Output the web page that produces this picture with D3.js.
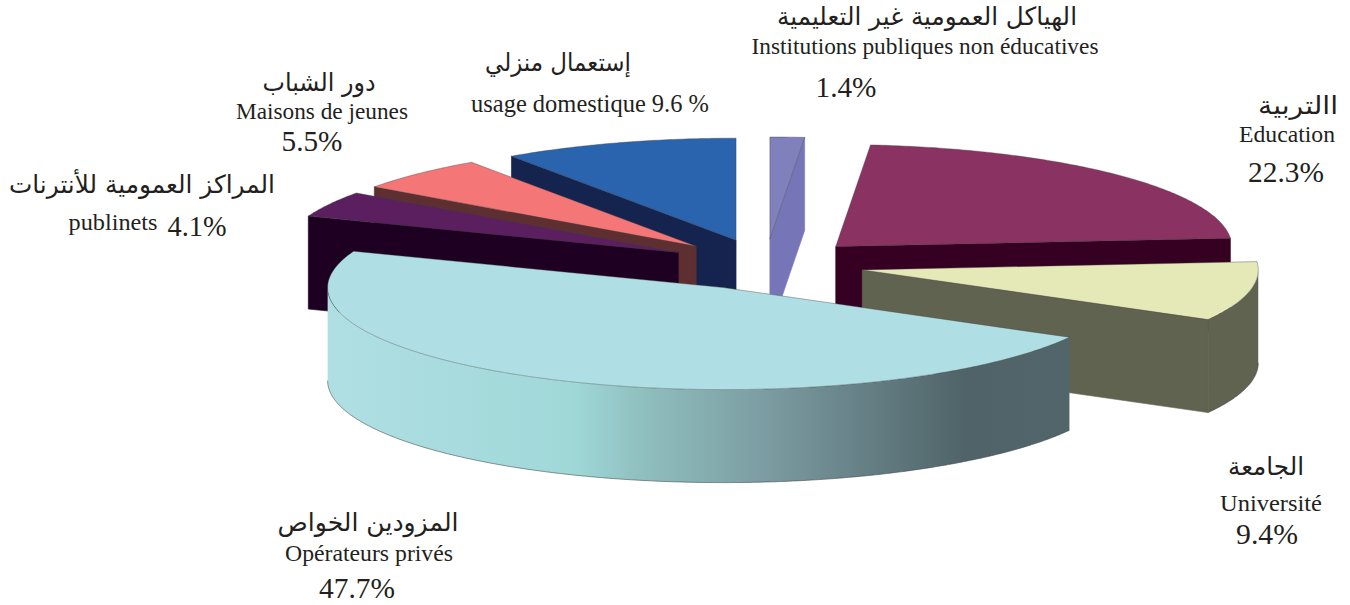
<!DOCTYPE html>
<html><head><meta charset="utf-8">
<script src="https://cdn.jsdelivr.net/npm/d3@7/dist/d3.min.js"></script>
<style>html,body{margin:0;padding:0;background:#fff}svg{display:block}
text{fill:#231f20}</style></head><body>
<svg id="c" width="1350" height="605"></svg>
<script>
// data, clockwise from north
const labelsFr = ["Institutions publiques non éducatives","Education","Université","Opérateurs privés","publinets","Maisons de jeunes","usage domestique"];
const labelsAr = ["الهياكل العمومية غير التعليمية","االتربية","الجامعة","المزودين الخواص","المراكز العمومية للأنترنات","دور الشباب","إستعمال منزلي"];
const shares = [1.4,22.3,9.4,47.7,4.1,5.5,9.6];
const topColors = ["#8080bc","#8a3362","#e5e9b8","#afdfe5","#5b1f60","#f47677","#2b64ae"];
const faceColors = ["#7575b8","#360022","#5f6350","#4f6368","#1e0023","#5e2f30","#15244f"];
const wallColors = ["#7575b8","#360022","#5f6350","url(#wall)","#1e0023","#5e2f30","#15244f"];

const W=1350,H=605, RX=396, RY=102, DEPTH=93, EXPLODE=0.25;
const CX=765.5, CY=264.5;
const x=d3.scaleLinear().domain([-1,1]).range([CX-RX,CX+RX]);
const y=d3.scaleLinear().domain([-1,1]).range([CY-RY,CY+RY]);
const svg=d3.select("#c");

const defs=svg.append("defs");
const g=defs.append("linearGradient").attr("id","wall");
[[0,"#b0dfe3"],[0.33,"#a0d8d8"],[0.42,"#90c0c0"],[0.6,"#7a9aa0"],[0.86,"#4f6368"],[1,"#52656a"]]
 .forEach(s=>g.append("stop").attr("offset",s[0]).attr("stop-color",s[1]));

const pie=d3.pie().sort(null).value(d=>d).startAngle(0).endAngle(2*Math.PI);
const arcs=pie(shares);
const line=d3.line();

function slicePts(a){
  const m=(a.startAngle+a.endAngle)/2;
  const ox=EXPLODE*Math.sin(m), oy=-EXPLODE*Math.cos(m);
  const P=(t,dz=0)=>[x(ox+Math.sin(t)),y(oy-Math.cos(t))+dz];
  const ap=(dz=0)=>[x(ox),y(oy)+dz];
  return {P,ap};
}
function arcAngles(a0,a1){const n=Math.max(2,Math.ceil((a1-a0)/0.01));return d3.range(n+1).map(i=>a0+(a1-a0)*i/n);}

const drawOrder=[6,0,1,5,4,2,3];
const layer=svg.append("g");
drawOrder.forEach(i=>{
  const a=arcs[i],{P,ap}=slicePts(a),G=layer.append("g");
  if(a.startAngle>=Math.PI){
    G.append("path").attr("d",line([ap(),P(a.startAngle),P(a.startAngle,DEPTH),ap(DEPTH)])+"Z")
     .attr("fill",faceColors[i]).attr("stroke",faceColors[i]).attr("stroke-width",0.6);
  }
  if(a.endAngle<=Math.PI){
    G.append("path").attr("d",line([ap(),P(a.endAngle),P(a.endAngle,DEPTH),ap(DEPTH)])+"Z")
     .attr("fill",faceColors[i]).attr("stroke",faceColors[i]).attr("stroke-width",0.6);
  }
  const w0=Math.max(a.startAngle,Math.PI/2), w1=Math.min(a.endAngle,3*Math.PI/2);
  if(w1>w0){
    const ts=arcAngles(w0,w1);
    const pts=ts.map(t=>P(t)).concat(ts.slice().reverse().map(t=>P(t,DEPTH)));
    G.append("path").attr("d",line(pts)+"Z").attr("fill",wallColors[i]);
    G.append("path").attr("d",line(ts.map(t=>P(t,DEPTH)))).attr("fill","none")
     .attr("stroke","#3c4446").attr("stroke-opacity",0.7).attr("stroke-width",0.8);
  }
  const top=[ap()].concat(arcAngles(a.startAngle,a.endAngle).map(t=>P(t)));
  G.append("path").attr("d",line(top)+"Z").attr("fill",topColors[i])
   .attr("stroke","#3d3d3d").attr("stroke-opacity",0.55).attr("stroke-width",0.7);
});

// text
const AR="'DejaVu Sans'", FR="'Liberation Serif'";
function t(str,cx,base,size,fam,len){
  const e=svg.append("text").attr("x",cx).attr("y",base).attr("text-anchor","middle")
    .attr("font-family",fam).attr("font-size",size).text(str);
  if(len) e.attr("textLength",len).attr("lengthAdjust","spacingAndGlyphs");
  return e;
}
const pct=v=>v.toFixed(1)+"%";
t(labelsAr[0],927,25,25,AR,300).attr("direction","rtl");
t(labelsFr[0],925,54,24,FR,347);
t(pct(shares[0]),846,97,30,FR,61);
t(labelsAr[1],1298,114,25,AR,80).attr("direction","rtl");
t(labelsFr[1],1287,142,24,FR,96);
t(pct(shares[1]),1286,182,30,FR,76);
t(labelsAr[2],1266,475,25,AR,76).attr("direction","rtl");
t(labelsFr[2],1271,511,24,FR,102);
t(pct(shares[2]),1267,544,30,FR,62);
t(labelsAr[3],368,531,25,AR,181).attr("direction","rtl");
t(labelsFr[3],369,561,24,FR,168);
t(pct(shares[3]),357,598,30,FR,76);
t(labelsAr[4],142,193,25,AR,266).attr("direction","rtl");
t(labelsFr[4],113,230,24,FR,89);
t(pct(shares[4]),197,236,30,FR,59);
t(labelsAr[5],319,91,25,AR,113).attr("direction","rtl");
t(labelsFr[5],322,119,24,FR,172);
t(pct(shares[5]),312,151,30,FR,61);
t(labelsAr[6],558,71,25,AR,146).attr("direction","rtl");
t(labelsFr[6]+" "+shares[6].toFixed(1)+" %",590,112,25,FR,238);
</script></body></html>
